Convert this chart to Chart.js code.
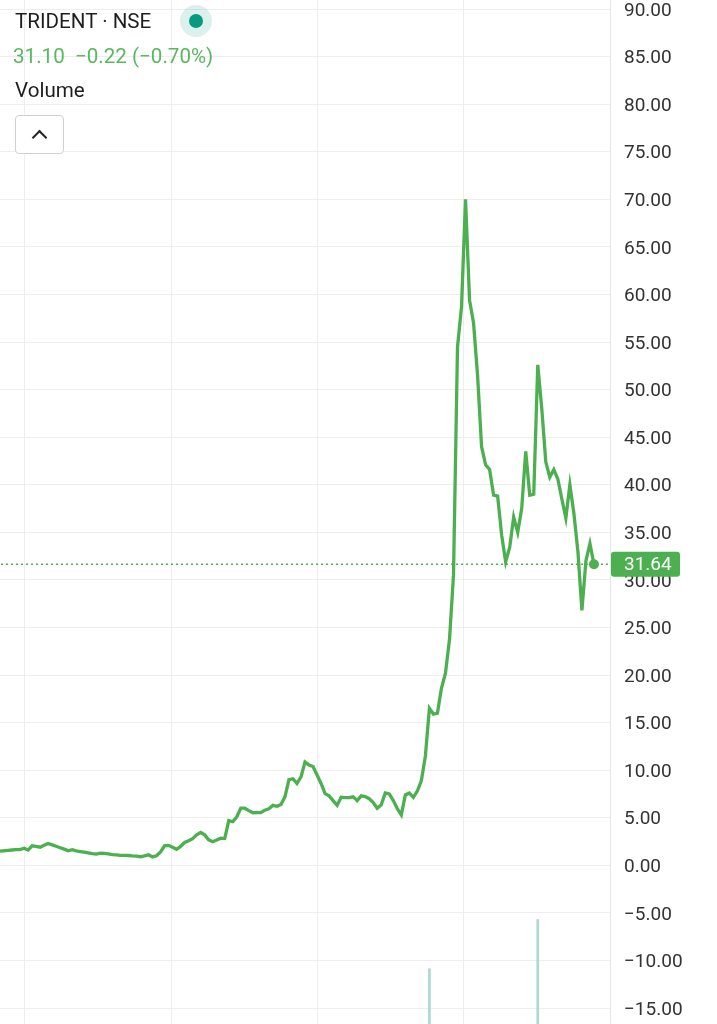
<!DOCTYPE html>
<html>
<head>
<meta charset="utf-8">
<script src="https://cdn.jsdelivr.net/npm/chart.js@4.4.0/dist/chart.umd.min.js"></script>
<style>
  html, body { margin: 0; padding: 0; background: #fff; }
  #wrap { position: relative; width: 717px; height: 1024px; overflow: hidden; font-family: Roboto, "Noto Sans", sans-serif; }
  #chart { position: absolute; left: 0; top: 0; }
  .hdr { position: absolute; left: 15px; font-size: 20.6px; white-space: pre; line-height: 1; }
  #title { top: 11px; color: #1e1e1e; }
  #quote { top: 46px; left: 13px; color: #5cb85f; }
  #vol { top: 80px; color: #1e1e1e; }
  #dot { position: absolute; left: 180px; top: 5px; width: 32px; height: 32px; border-radius: 50%; background: rgba(8, 153, 129, 0.14); }
  #dot::after { content: ""; position: absolute; left: 9px; top: 9px; width: 14px; height: 14px; border-radius: 50%; background: #089981; }
  #btn { position: absolute; left: 15px; top: 115px; width: 47px; height: 37px; border: 1px solid #cfcfcf; border-radius: 4px; background: #fff; }
  #btn::after { content: ""; position: absolute; left: 18px; top: 16px; width: 9px; height: 9px; border-left: 2.5px solid #222; border-top: 2.5px solid #222; transform: rotate(45deg); }
</style>
</head>
<body>
<div id="wrap">
  <canvas id="chart" width="717" height="1024"></canvas>
  <div class="hdr" id="title">TRIDENT · NSE</div>
  <div id="dot"></div>
  <div class="hdr" id="quote">31.10  −0.22 (−0.70%)</div>
  <div class="hdr" id="vol">Volume</div>
  <div id="btn"></div>
</div>
<script>
// closing prices, one per step
const prices = [
  1.50, 1.53, 1.57, 1.61, 1.65, 1.65, 1.79, 1.60, 2.05, 2.00,
  1.90, 2.10, 2.30, 2.15, 2.00, 1.85, 1.70, 1.52, 1.64, 1.52,
  1.45, 1.38, 1.31, 1.23, 1.18, 1.28, 1.25, 1.20, 1.13, 1.09,
  1.05, 1.05, 1.03, 0.99, 0.96, 0.90, 1.00, 1.10, 0.88, 1.00,
  1.40, 2.05, 2.10, 1.90, 1.68, 1.98, 2.40, 2.58, 2.80, 3.20,
  3.45, 3.20, 2.68, 2.47, 2.65, 2.85, 2.81, 4.70, 4.58, 5.10,
  6.00, 6.00, 5.75, 5.52, 5.55, 5.53, 5.80, 5.95, 6.30, 6.20,
  6.40, 7.20, 9.00, 9.10, 8.60, 9.30, 10.85, 10.55, 10.38, 9.50,
  8.60, 7.54, 7.30, 6.80, 6.30, 7.16, 7.11, 7.12, 7.20, 6.80,
  7.30, 7.23, 7.00, 6.60, 6.00, 6.35, 7.60, 7.50, 6.80, 5.96,
  5.30, 7.40, 7.60, 7.15, 7.80, 8.90, 11.50, 16.50, 15.90, 16.00,
  18.60, 20.20, 23.70, 30.50, 54.50, 58.70, 70.00, 59.40, 57.00, 51.50,
  44.00, 42.10, 41.60, 38.90, 38.80, 34.70, 31.90, 33.40, 36.60, 35.00,
  37.50, 43.50, 38.90, 39.00, 52.60, 48.00, 42.40, 40.80, 41.60, 40.60,
  38.50, 36.50, 40.00, 37.00, 33.00, 26.80, 32.00, 33.80, 31.64
];
const volumeIndex = [107, 134];
const volumeValues = [54, 102];
const yTickValues = [-15, -10, -5, 0, 5, 10, 15, 20, 25, 30, 35, 40, 45, 50, 55, 60, 65, 70, 75, 80, 85, 90];
const xGridTicks = [6, 42.85, 79.2, 115.6];
const lastPrice = 31.64;

const green = "#4caf50";
const gridColor = "#eeeeee";

const lastIdx = prices.length - 1;

const priceLabel = {
  id: "priceLabel",
  afterDraw(chart) {
    const ctx = chart.ctx;
    const y = chart.scales.y.getPixelForValue(lastPrice);
    const left = chart.chartArea.right + 1;
    ctx.save();
    ctx.fillStyle = green;
    ctx.beginPath();
    ctx.roundRect(left, y - 12.5, 69, 25, 3);
    ctx.fill();
    ctx.fillStyle = "#fff";
    ctx.font = "19px Roboto";
    ctx.textBaseline = "middle";
    ctx.textAlign = "left";
    ctx.fillText(lastPrice.toFixed(2), left + 13, y + 1);
    ctx.restore();
  }
};

new Chart(document.getElementById("chart"), {
  type: "line",
  data: {
    datasets: [
      {
        data: prices.map((v, i) => ({ x: i, y: v })),
        borderColor: green,
        borderWidth: 3.3,
        pointRadius: prices.map((v, i) => (i === lastIdx ? 5 : 0)),
        pointBackgroundColor: green,
        pointBorderWidth: 0,
        tension: 0,
        yAxisID: "y",
        order: 1
      },
      {
        data: [{ x: -1, y: lastPrice }, { x: 160, y: lastPrice }],
        borderColor: green,
        borderWidth: 1.5,
        borderDash: [2, 3],
        pointRadius: 0,
        yAxisID: "y",
        order: 2
      },
      {
        type: "bar",
        data: volumeIndex.map((x, i) => ({ x: x, y: volumeValues[i] })),
        backgroundColor: "#a9d9d1",
        barThickness: 2,
        yAxisID: "yVol",
        order: 3
      }
    ]
  },
  options: {
    responsive: false,
    animation: false,
    layout: { padding: 0, autoPadding: false },
    plugins: { legend: { display: false }, tooltip: { enabled: false } },
    scales: {
      x: {
        type: "linear",
        min: 0,
        max: 152,
        offset: false,
        afterBuildTicks: (s) => { s.ticks = xGridTicks.map(v => ({ value: v })); },
        afterFit: (s) => { s.height = 0; s.paddingLeft = 0; s.paddingRight = 0; },
        ticks: { display: false },
        grid: { color: gridColor, drawTicks: false, offset: false },
        border: { display: false }
      },
      y: {
        position: "right",
        min: -16.68,
        max: 90.95,
        afterBuildTicks: (s) => { s.ticks = yTickValues.map(v => ({ value: v })); },
        afterFit: (s) => { s.width = 107; s.paddingTop = 0; s.paddingBottom = 0; },
        ticks: {
          padding: 14,
          labelOffset: 2,
          color: "#333333",
          font: { family: "Roboto", size: 19 },
          callback: (v) => v.toFixed(2).replace("-", "\u2212")
        },
        grid: { color: gridColor, drawTicks: false },
        border: { display: true, color: "#e6e6e6" }
      },
      yVol: {
        display: false,
        min: 0,
        max: 1000
      }
    }
  },
  plugins: [priceLabel]
});
</script>
</body>
</html>
